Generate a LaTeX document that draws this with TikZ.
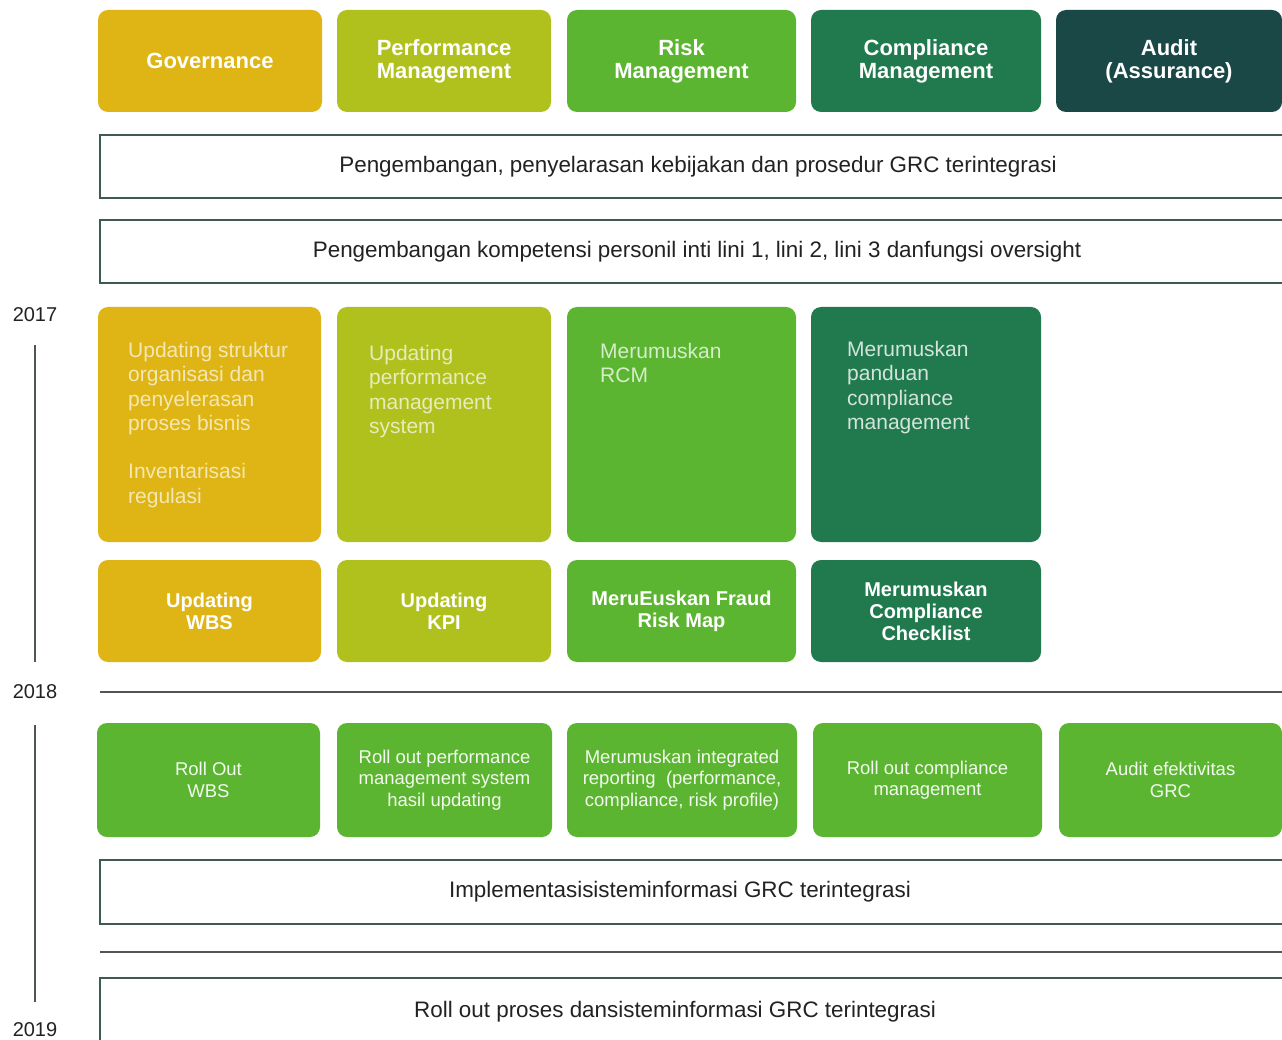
\documentclass[tikz,border=0pt]{standalone}
\usepackage{fontspec}
\setmainfont{Liberation Sans}
\definecolor{cgov}{HTML}{DEB514}
\definecolor{cperf}{HTML}{B0C11E}
\definecolor{crisk}{HTML}{5CB531}
\definecolor{ccomp}{HTML}{217A4E}
\definecolor{caud}{HTML}{1A4847}
\definecolor{cbar}{HTML}{3E5A55}
\definecolor{cline}{HTML}{505555}
\definecolor{ctxt}{HTML}{222222}
\tikzset{
  tile/.style={rounded corners=10pt, inner sep=0pt, align=center, text=white},
  hbox/.style={tile, minimum height=102pt, font=\fontsize{22}{23}\selectfont\bfseries},
  bigbox/.style={tile, minimum height=235pt},
  smallbox/.style={tile, minimum height=102pt, font=\fontsize{20}{22}\selectfont\bfseries},
  greenbox/.style={tile, fill=crisk, minimum height=114pt, text=white!92!crisk, font=\fontsize{18.5}{21.5}\selectfont},
  bigtext/.style={anchor=north west, inner sep=0pt, align=left, font=\fontsize{21}{24.3}\selectfont},
  bar/.style={draw=cbar, line width=2pt, fill=white, minimum width=1200pt, inner sep=0pt},
  bartext/.style={inner sep=0pt, text=ctxt, font=\fontsize{22.4}{24}\selectfont},
  year/.style={inner sep=0pt, text=ctxt, font=\fontsize{20}{22}\selectfont},
  tline/.style={draw=cline, line width=1.6pt},
}
\begin{document}
\begin{tikzpicture}[x=1pt, y=-1pt]
\clip (0,0) rectangle (1282,1040);
\fill[white] (0,0) rectangle (1282,1040);

% header row
\node[hbox, fill=cgov, minimum width=224pt] (hgov) at (210,61) {Governance};
\node[hbox, fill=cperf, minimum width=214pt] (hperf) at (444,61) {Performance\\Management};
\node[hbox, fill=crisk, minimum width=229pt] (hrisk) at (681.5,61) {Risk\\Management};
\node[hbox, fill=ccomp, minimum width=230pt] (hcomp) at (926,61) {Compliance\\Management};
\node[hbox, fill=caud, minimum width=226pt] (haud) at (1169,61) {Audit\\(Assurance)};

% bars
\node[bar, minimum height=63pt] (b1) at (700,166.5) {};
\node[bartext] (b1t) at (698,167) {Pengembangan, penyelarasan kebijakan dan prosedur GRC terintegrasi};
\node[bar, minimum height=63pt] (b2) at (700,251.5) {};
\node[bartext] (b2t) at (697,252) {Pengembangan kompetensi personil inti lini 1, lini 2, lini 3 danfungsi oversight};

% years and timeline
\node[year] (y17) at (35,315) {2017};
\node[year] (y18) at (35,692) {2018};
\node[year] (y19) at (35,1030) {2019};
\coordinate (l1a) at (35,345);
\coordinate (l1b) at (35,662);
\coordinate (l2a) at (35,725);
\coordinate (l2b) at (35,1002);
\draw[tline] (l1a) -- (l1b);
\draw[tline] (l2a) -- (l2b);

% big boxes
\node[bigbox, fill=cgov, minimum width=223pt] (mgov) at (209.5,424.5) {};
\node[bigbox, fill=cperf, minimum width=214pt] (mperf) at (444,424.5) {};
\node[bigbox, fill=crisk, minimum width=229pt] (mrisk) at (681.5,424.5) {};
\node[bigbox, fill=ccomp, minimum width=230pt] (mcomp) at (926,424.5) {};
\node[bigtext, text=white!68!cgov] (tgov) at (128,342) {Updating struktur\\organisasi dan\\penyelerasan\\proses bisnis\\[24.3pt]Inventarisasi\\regulasi};
\node[bigtext, text=white!70!cperf] (tperf) at (369,345) {Updating\\performance\\management\\system};
\node[bigtext, text=white!75!crisk] (trisk) at (600,343) {Merumuskan\\RCM};
\node[bigtext, text=white!80!ccomp] (tcomp) at (847,341) {Merumuskan\\panduan\\compliance\\management};

% small boxes
\node[smallbox, fill=cgov, minimum width=223pt] (sgov) at (209.5,611) {Updating\\WBS};
\node[smallbox, fill=cperf, minimum width=214pt] (sperf) at (444,611) {Updating\\KPI};
\node[smallbox, fill=crisk, minimum width=229pt] (srisk) at (681.5,611) {MeruEuskan Fraud\\Risk Map};
\node[smallbox, fill=ccomp, minimum width=230pt] (scomp) at (926,611) {Merumuskan\\Compliance\\Checklist};

% separator 2018
\coordinate (s1a) at (100,692);
\coordinate (s1b) at (1282,692);
\draw[tline] (s1a) -- (s1b);

% green row
\node[greenbox, minimum width=223pt] (g1) at (208.5,780) {Roll Out\\WBS};
\node[greenbox, minimum width=215pt] (g2) at (444.5,780) {Roll out performance\\management system\\hasil updating};
\node[greenbox, minimum width=230pt] (g3) at (682,780) {Merumuskan integrated\\reporting~ (performance,\\compliance, risk profile)};
\node[greenbox, minimum width=229pt] (g4) at (927.5,780) {Roll out compliance\\management};
\node[greenbox, minimum width=223pt] (g5) at (1170.5,780) {Audit efektivitas\\GRC};

% lower bars
\node[bar, minimum height=64pt] (b3) at (700,892) {};
\node[bartext] (b3t) at (680,892) {Implementasisisteminformasi GRC terintegrasi};
\coordinate (s2a) at (100,952);
\coordinate (s2b) at (1282,952);
\draw[tline] (s2a) -- (s2b);
\node[bar, minimum height=70pt] (b4) at (700,1013) {};
\node[bartext] (b4t) at (675,1012) {Roll out proses dansisteminformasi GRC terintegrasi};
\end{tikzpicture}
\end{document}
